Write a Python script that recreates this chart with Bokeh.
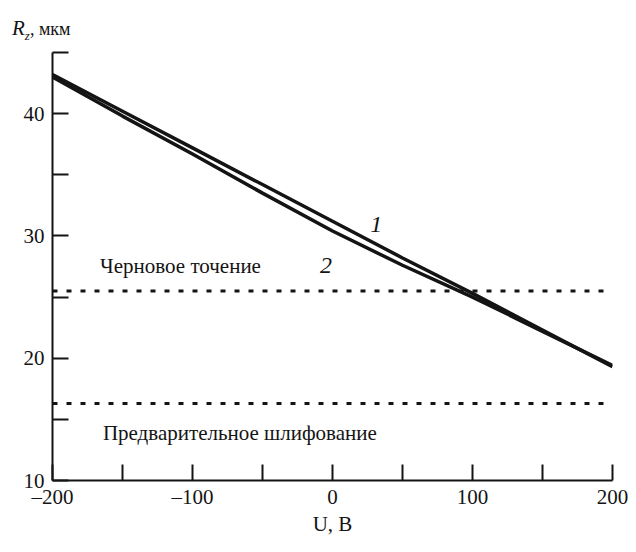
from bokeh.plotting import figure
from bokeh.models import FixedTicker, Range1d, Label, Div
from bokeh.layouts import column
from bokeh.embed import file_html
from bokeh.resources import INLINE

# data
u_vals = [-200, -150, -100, -50, 0, 50, 100, 150, 200]
rz_line1 = [43.2, 40.2, 37.2, 34.2, 31.2, 28.2, 25.3, 22.3, 19.3]
rz_line2 = [43.0, 39.8, 36.7, 33.5, 30.4, 27.6, 25.0, 22.2, 19.4]
rough_turning = 25.5
pre_grinding = 16.3
x_ticks = [-200, -150, -100, -50, 0, 50, 100, 150, 200]
x_tick_labels = {-200: "–200", -150: "", -100: "–100", -50: "", 0: "0", 50: "", 100: "100", 150: "", 200: "200"}
y_ticks = [10, 15, 20, 25, 30, 35, 40, 45]
y_tick_labels = {10: "10", 15: "", 20: "20", 25: "", 30: "30", 35: "", 40: "40", 45: ""}

FONT = "Liberation Serif"
INK = "#141414"

header = Div(
    text='<i>R</i><sub style="font-style:italic;font-size:13px">z</sub><span style="font-size:18px">, мкм</span>',
    width=200, height=40, margin=0,
    styles={"font-family": FONT, "font-size": "21px", "color": INK,
            "padding-left": "12px", "padding-top": "18px", "line-height": "1"})

p = figure(width=628, height=504, output_backend="svg", toolbar_location=None,
           x_range=Range1d(-200, 200), y_range=Range1d(10, 45),
           min_border_left=52, min_border_right=16, min_border_top=12, min_border_bottom=64)
p.outline_line_color = None
p.xgrid.visible = False
p.ygrid.visible = False

for ax in (p.xaxis[0], p.yaxis[0]):
    ax.axis_line_width = 2
    ax.axis_line_color = INK
    ax.major_tick_line_color = INK
    ax.major_tick_line_width = 2
    ax.major_tick_in = 16
    ax.major_tick_out = 0
    ax.minor_tick_line_color = None
    ax.major_label_text_font = FONT
    ax.major_label_text_font_size = "21px"
    ax.major_label_text_color = INK

p.xaxis.ticker = FixedTicker(ticks=x_ticks)
p.xaxis.major_label_overrides = x_tick_labels
p.yaxis.ticker = FixedTicker(ticks=y_ticks)
p.yaxis.major_label_overrides = y_tick_labels
p.yaxis.major_label_standoff = 8
p.xaxis.major_label_standoff = 4
p.xaxis.axis_label = "U, В"
p.xaxis.axis_label_text_font = FONT
p.xaxis.axis_label_text_font_style = "normal"
p.xaxis.axis_label_text_font_size = "21px"
p.xaxis.axis_label_text_color = INK
p.xaxis.axis_label_standoff = 0

p.line(u_vals, rz_line1, line_width=3.5, line_color=INK)
p.line(u_vals, rz_line2, line_width=3.5, line_color=INK)

p.line([-200, 200], [rough_turning, rough_turning], line_width=3, line_color=INK, line_dash="5 9")
p.line([-200, 200], [pre_grinding, pre_grinding], line_width=3, line_color=INK, line_dash="5 9")

p.add_layout(Label(x=-166, y=26.6, text="Черновое точение", text_font=FONT,
                   text_font_size="21px", text_color=INK))
p.add_layout(Label(x=-164, y=12.9, text="Предварительное шлифование", text_font=FONT,
                   text_font_size="21px", text_color=INK))
p.add_layout(Label(x=27, y=30.3, text="1", text_font=FONT, text_font_style="italic",
                   text_font_size="24px", text_color=INK))
p.add_layout(Label(x=-9, y=27.0, text="2", text_font=FONT, text_font_style="italic",
                   text_font_size="24px", text_color=INK))

layout = column(header, p, spacing=0)
open("out.html", "w").write(file_html(layout, INLINE))
